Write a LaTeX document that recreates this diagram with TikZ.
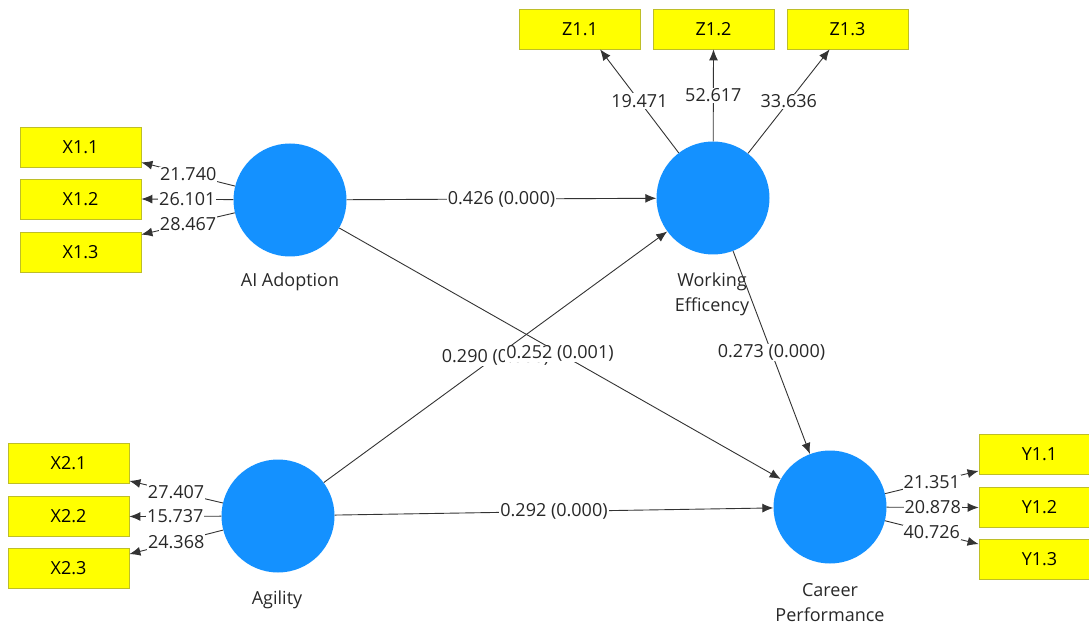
\documentclass[tikz,border=0pt]{standalone}
\usepackage{fontspec}
\setmainfont{Open Sans}
\usetikzlibrary{arrows.meta,calc}
\definecolor{lvblue}{RGB}{20,145,255}
\definecolor{indfill}{RGB}{255,255,0}
\definecolor{inddraw}{RGB}{190,190,40}
\definecolor{txt}{RGB}{40,40,40}
\begin{document}
\begin{tikzpicture}[x=1pt,y=-1pt,
 lv/.style={circle,fill=lvblue,minimum size=113pt,inner sep=0pt},
 ind/.style={rectangle,fill=indfill,draw=inddraw,line width=0.8pt,minimum width=121pt,minimum height=40pt,inner sep=0pt,font=\fontsize{18}{20}\selectfont},
 arr/.style={draw=black!80,line width=0.9pt,-{Latex[length=11pt,width=9pt]}},
 lbl/.style={fill=white,inner sep=1pt,text=txt,font=\fontsize{18}{20}\selectfont},
 lvname/.style={text=txt,font=\fontsize{18}{25}\selectfont,align=center}]
\useasboundingbox (0,0) rectangle (1089,628);
% latent variables
\node[lv] (ai) at (290,200) {};
\node[lv] (we) at (713,198) {};
\node[lv] (ag) at (278,516) {};
\node[lv] (cp) at (830,507) {};
\node[lvname] (ain) at (290,282) {AI Adoption};
\node[lvname] (wen) at (712,294) {Working\\Efficency};
\node[lvname] (agn) at (277,600) {Agility};
\node[lvname] (cpn) at (830,603) {Career\\Performance};
% indicators
\node[ind] (x11) at (80.5,147) {X1.1};
\node[ind] (x12) at (80.5,199) {X1.2};
\node[ind] (x13) at (80.5,252) {X1.3};
\node[ind] (x21) at (68.5,463.5) {X2.1};
\node[ind] (x22) at (68.5,516.5) {X2.2};
\node[ind] (x23) at (68.5,568.5) {X2.3};
\node[ind] (z11) at (580,29) {Z1.1};
\node[ind] (z12) at (713.5,29) {Z1.2};
\node[ind] (z13) at (847.5,29) {Z1.3};
\node[ind] (y11) at (1039.5,454.5) {Y1.1};
\node[ind] (y12) at (1039.5,507.5) {Y1.2};
\node[ind] (y13) at (1039.5,559.5) {Y1.3};
% arrow end points on the indicator boxes
\coordinate (x11t) at ($(x11.south east)+(0,-5)$);
\coordinate (x12t) at (x12.east);
\coordinate (x13t) at ($(x13.north east)+(0,3)$);
\coordinate (x21t) at ($(x21.south east)+(0,-3)$);
\coordinate (x22t) at (x22.east);
\coordinate (x23t) at ($(x23.north east)+(0,6)$);
\coordinate (y11t) at ($(y11.south west)+(0,-4)$);
\coordinate (y12t) at (y12.west);
\coordinate (y13t) at ($(y13.north west)+(0,5)$);
\coordinate (z11t) at ($(z11.south west)+(81,0)$);
\coordinate (z12t) at (z12.south);
\coordinate (z13t) at ($(z13.south west)+(43,0)$);
% outer model
\draw[arr] (ai) -- (x11t) node[lbl,midway] {21.740};
\draw[arr] (ai) -- (x12t) node[lbl,midway] {26.101};
\draw[arr] (ai) -- (x13t) node[lbl,midway] {28.467};
\draw[arr] (ag) -- (x21t) node[lbl,midway] {27.407};
\draw[arr] (ag) -- (x22t) node[lbl,midway] {15.737};
\draw[arr] (ag) -- (x23t) node[lbl,midway] {24.368};
\draw[arr] (cp) -- (y11t) node[lbl,midway] {21.351};
\draw[arr] (cp) -- (y12t) node[lbl,midway] {20.878};
\draw[arr] (cp) -- (y13t) node[lbl,midway] {40.726};
\draw[arr] (we) -- (z11t) node[lbl,midway] {19.471};
\draw[arr] (we) -- (z12t) node[lbl,midway] {52.617};
\draw[arr] (we) -- (z13t) node[lbl,midway] {33.636};
% inner model
\draw[arr] (ai) -- (we) node[lbl,midway] {0.426 (0.000)};
\draw[arr] (ag) -- (cp) node[lbl,midway] {0.292 (0.000)};
\draw[arr] (we) -- (cp) node[lbl,midway] {0.273 (0.000)};
\draw[arr] (ag) -- (we) node[lbl,midway] {0.290 (0.000)};
\draw[arr] (ai) -- (cp) node[lbl,midway] {0.252 (0.001)};
\end{tikzpicture}
\end{document}
